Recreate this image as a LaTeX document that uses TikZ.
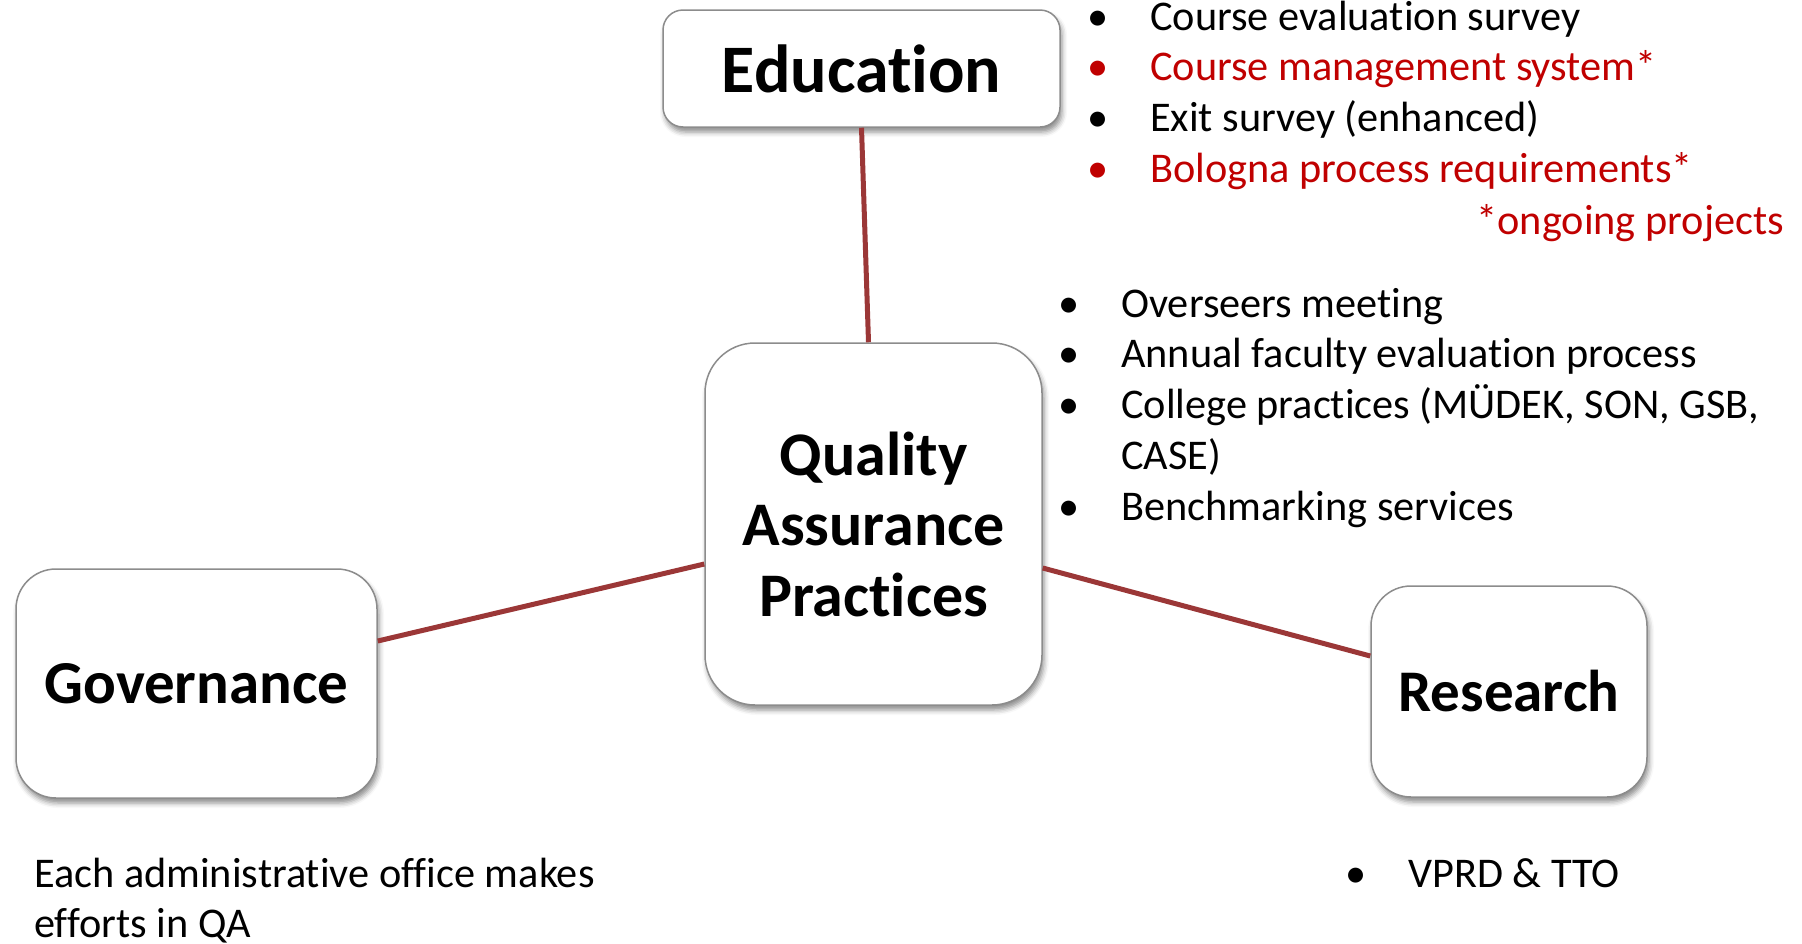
\documentclass[tikz,border=0pt]{standalone}
\usepackage{fontspec}
\setmainfont{Carlito}[Ligatures=NoCommon]
\usetikzlibrary{calc,shadows.blur}
\definecolor{linkred}{RGB}{155,55,55}
\definecolor{txtred}{RGB}{192,0,0}
\definecolor{boxgray}{RGB}{140,140,140}
\newcommand{\qabul}{\llap{\makebox[0pt]{\textbullet}\hspace{52pt}}}
\begin{document}
\begin{tikzpicture}[x=1pt,y=-1pt,
  box/.style={draw=boxgray, line width=1.5pt, fill=white, inner sep=0pt,
    blur shadow={shadow xshift=2pt,shadow yshift=-5pt,shadow blur radius=5pt,shadow opacity=45}},
  link/.style={draw=linkred, line width=5pt},
  body/.style={inner sep=0pt, font=\fontsize{42.3}{50.8}\selectfont}
]
\useasboundingbox (0,0) rectangle (1802,943);

\node[box, rounded corners=20pt, minimum width=397pt, minimum height=117pt,
  font=\bfseries\fontsize{68}{68}\selectfont] (edu) at (861.5,68.5) {Education};
\node[box, rounded corners=50pt, minimum width=337pt, minimum height=362pt, align=center,
  font=\bfseries\fontsize{62}{70.5}\selectfont] (qa) at (873.5,524) {Quality\\Assurance\\Practices};
\node[box, rounded corners=40pt, minimum width=361pt, minimum height=229pt,
  font=\bfseries\fontsize{61}{61}\selectfont] (gov) at (196.5,683.5) {Governance};
\node[box, rounded corners=40pt, minimum width=276pt, minimum height=211pt,
  font=\bfseries\fontsize{59}{59}\selectfont] (res) at (1509,691.5) {Research};

\draw[link] (edu.south) -- ($(qa.north)+(-5,0)$);
\draw[link] ($(gov.east)+(0,-42.5)$) -- ($(qa.west)+(0,40)$);
\draw[link] ($(qa.east)+(0,44)$) -- ($(res.west)+(0,-35.5)$);

\node[body, anchor=base west] (edulist) at (1150,30) {\begin{tabular}[t]{@{}l@{}}
\qabul Course evaluation survey\\
\color{txtred}\qabul Course management system*\\
\qabul Exit survey (enhanced)\\
\color{txtred}\qabul Bologna process requirements*
\end{tabular}};
\node[body, anchor=base east, text=txtred] (ongoing) at (1784,234) {*ongoing projects};

\node[body, anchor=base west] (qalist) at (1121,317) {\begin{tabular}[t]{@{}l@{}}
\qabul Overseers meeting\\
\qabul Annual faculty evaluation process\\
\qabul College practices (MÜDEK, SON, GSB,\\
CASE)\\
\qabul Benchmarking services
\end{tabular}};

\node[body, anchor=base west] (govtext) at (34,887) {\begin{tabular}[t]{@{}l@{}}
Each administrative office makes\\
efforts in QA
\end{tabular}};

\node[body, anchor=base west] (restext) at (1408,887) {\qabul VPRD \& TTO};
\end{tikzpicture}
\end{document}
